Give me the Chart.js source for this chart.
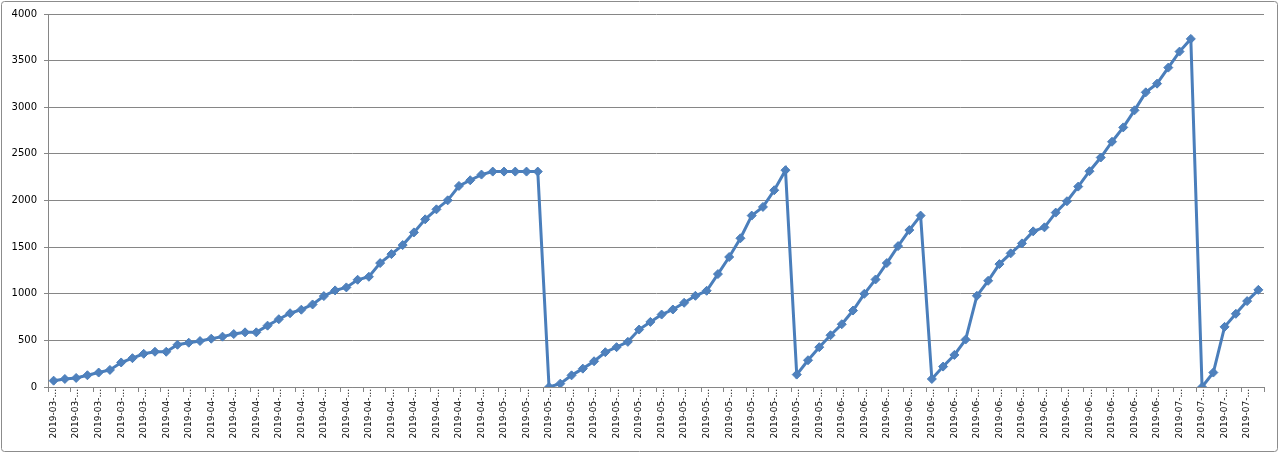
<!DOCTYPE html>
<html>
<head>
<meta charset="utf-8">
<script src="https://cdn.jsdelivr.net/npm/chart.js@4.4.1/dist/chart.umd.min.js"></script>
<style>
  html, body { margin: 0; padding: 0; background: #fff; }
  canvas { display: block; }
</style>
</head>
<body>
<canvas id="c" width="1280" height="454"></canvas>
<script>
const categories = [
  "2019-03-23","2019-03-24","2019-03-25","2019-03-26","2019-03-27","2019-03-28","2019-03-29","2019-03-30","2019-03-31",
  "2019-04-01","2019-04-02","2019-04-03","2019-04-04","2019-04-05","2019-04-06","2019-04-07","2019-04-08","2019-04-09","2019-04-10",
  "2019-04-11","2019-04-12","2019-04-13","2019-04-14","2019-04-15","2019-04-16","2019-04-17","2019-04-18","2019-04-19","2019-04-20",
  "2019-04-21","2019-04-22","2019-04-23","2019-04-24","2019-04-25","2019-04-26","2019-04-27","2019-04-28","2019-04-29","2019-04-30",
  "2019-05-01","2019-05-02","2019-05-03","2019-05-04","2019-05-05","2019-05-06","2019-05-07","2019-05-08","2019-05-09","2019-05-10",
  "2019-05-11","2019-05-12","2019-05-13","2019-05-14","2019-05-15","2019-05-16","2019-05-17","2019-05-18","2019-05-19","2019-05-20",
  "2019-05-21","2019-05-22","2019-05-23","2019-05-24","2019-05-25","2019-05-26","2019-05-27","2019-05-28","2019-05-29","2019-05-30",
  "2019-05-31",
  "2019-06-01","2019-06-02","2019-06-03","2019-06-04","2019-06-05","2019-06-06","2019-06-07","2019-06-08","2019-06-09","2019-06-10",
  "2019-06-11","2019-06-12","2019-06-13","2019-06-14","2019-06-15","2019-06-16","2019-06-17","2019-06-18","2019-06-19","2019-06-20",
  "2019-06-21","2019-06-22","2019-06-23","2019-06-24","2019-06-25","2019-06-26","2019-06-27","2019-06-28","2019-06-29","2019-06-30",
  "2019-07-01","2019-07-02","2019-07-03","2019-07-04","2019-07-05","2019-07-06","2019-07-07","2019-07-08"
];

const values = [
  68, 86, 97, 126, 155, 183, 263, 309, 356, 378,
  378, 453, 475, 493, 518, 540, 568, 586, 586, 658,
  727, 791, 829, 885, 975, 1036, 1068, 1150, 1182, 1329,
  1425, 1522, 1658, 1798, 1905, 2002, 2156, 2217, 2278, 2310,
  2310, 2310, 2310, 2310, 0, 36, 125, 197, 276, 373,
  427, 484, 616, 698, 777, 831, 903, 978, 1032, 1211,
  1394, 1595, 1838, 1931, 2110, 2325, 133, 287, 427, 555,
  673, 820, 999, 1153, 1329, 1511, 1683, 1838, 86, 219,
  344, 509, 978, 1139, 1318, 1433, 1540, 1669, 1712, 1870,
  1992, 2149, 2314, 2461, 2630, 2784, 2967, 3160, 3253, 3425,
  3597, 3733, 0, 155, 645, 785, 921, 1042
];

const yTicks = [0, 500, 1000, 1500, 2000, 2500, 3000, 3500, 4000];

const frame = {
  id: 'frame',
  beforeDraw(chart) {
    const c = chart.ctx;
    c.save();
    c.fillStyle = '#ffffff';
    c.fillRect(0, 0, chart.width, chart.height);
    c.restore();
  },
  afterDraw(chart) {
    const c = chart.ctx;
    c.save();
    c.strokeStyle = '#8c8c8c';
    c.lineWidth = 1;
    const x = 1.5, y = 1.5, w = 1276, h = 450, r = 3;
    c.beginPath();
    c.moveTo(x + r, y);
    c.lineTo(x + w - r, y);
    c.arcTo(x + w, y, x + w, y + r, r);
    c.lineTo(x + w, y + h - r);
    c.arcTo(x + w, y + h, x + w - r, y + h, r);
    c.lineTo(x + r, y + h);
    c.arcTo(x, y + h, x, y + h - r, r);
    c.lineTo(x, y + r);
    c.arcTo(x, y, x + r, y, r);
    c.stroke();
    c.restore();
  }
};

new Chart(document.getElementById('c'), {
  type: 'line',
  data: {
    labels: categories,
    datasets: [{
      data: values,
      borderColor: '#4A7EBB',
      backgroundColor: '#4F81BD',
      borderWidth: 3,
      tension: 0,
      pointStyle: 'rectRot',
      pointRadius: 4.5,
      pointBorderWidth: 1,
      pointBorderColor: '#4A7EBB',
      pointBackgroundColor: '#4F81BD'
    }]
  },
  options: {
    responsive: false,
    animation: false,
    layout: { padding: { top: 14, right: 16, left: 0, bottom: 0 } },
    plugins: { legend: { display: false }, tooltip: { enabled: false } },
    scales: {
      x: {
        offset: true,
        grid: {
          offset: true,
          drawOnChartArea: false,
          drawTicks: true,
          tickLength: 5,
          lineWidth: 1,
          color: (ctx) => (ctx.index === undefined || ctx.index % 2 === 0) ? '#868686' : 'rgba(0,0,0,0)'
        },
        border: { color: '#868686', width: 1 },
        ticks: {
          autoSkip: false,
          maxRotation: 90,
          minRotation: 90,
          padding: -3,
          color: '#000000',
          font: { family: 'DejaVu Sans', size: 9 },
          callback: (v, i) => (i % 2 === 0) ? categories[i].slice(0, 8) + '...' : ''
        },
        afterFit: (s) => { s.height = 67; }
      },
      y: {
        min: 0,
        max: 4000,
        afterBuildTicks: (s) => { s.ticks = yTicks.map(v => ({ value: v })); },
        grid: { color: '#868686', lineWidth: 1, tickLength: 4 },
        border: { color: '#868686', width: 1 },
        ticks: {
          padding: 7,
          color: '#000000',
          font: { family: 'DejaVu Sans', size: 10 },
          callback: (v) => String(v)
        },
        afterFit: (s) => { s.width = 48; }
      }
    }
  },
  plugins: [frame]
});
</script>
</body>
</html>
